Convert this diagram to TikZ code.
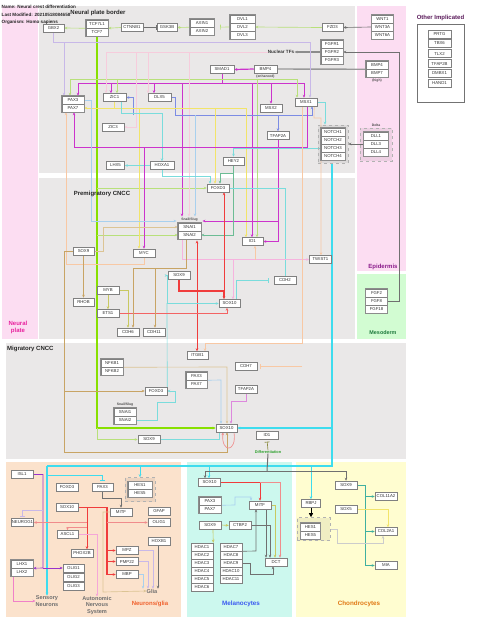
\documentclass[tikz,border=0pt]{standalone}
\usepackage{fontspec}
\setmainfont{Liberation Sans}
\usetikzlibrary{arrows.meta,fit}
\pgfdeclarelayer{bgl}
\pgfdeclarelayer{lnl}
\pgfsetlayers{bgl,lnl,main}
\definecolor{npink}{HTML}{FCDDF2}
\definecolor{rgray}{HTML}{EAE8E8}
\definecolor{mesog}{HTML}{D2FCD2}
\definecolor{peachbg}{HTML}{FBE2CC}
\definecolor{mintbg}{HTML}{CCF8EE}
\definecolor{yelbg}{HTML}{FFFDD0}
\definecolor{clime}{HTML}{88E000}
\definecolor{clgr}{HTML}{B8E07A}
\definecolor{cmag}{HTML}{CC33CC}
\definecolor{cpmag}{HTML}{DD88DD}
\definecolor{clav}{HTML}{C8B8E8}
\definecolor{cppink}{HTML}{F6CCDC}
\definecolor{cblu}{HTML}{7C8CE4}
\definecolor{clbl}{HTML}{A8D0EE}
\definecolor{cyel}{HTML}{F2E46A}
\definecolor{ccyb}{HTML}{3EDCEE}
\definecolor{clcy}{HTML}{7ADCDC}
\definecolor{cteal}{HTML}{6CBC94}
\definecolor{cpch}{HTML}{F8C8A4}
\definecolor{ctan}{HTML}{C8A464}
\definecolor{ctanl}{HTML}{DCC494}
\definecolor{cred}{HTML}{F03C3C}
\definecolor{csal}{HTML}{F08C8C}
\definecolor{cdg}{HTML}{707070}
\definecolor{colv}{HTML}{C8C860}
\definecolor{cpur}{HTML}{9933CC}
\definecolor{cpk}{HTML}{F080C8}
\definecolor{cteal2}{HTML}{40B0A0}
\definecolor{textgray}{HTML}{333333}
\definecolor{labpur}{HTML}{8B1C8B}
\definecolor{labmag}{HTML}{E8229E}
\definecolor{labgrn}{HTML}{1E7A3C}
\definecolor{labora}{HTML}{F0602C}
\definecolor{labblu}{HTML}{3A5AF0}
\definecolor{labchd}{HTML}{E07814}
\definecolor{labdif}{HTML}{2CA02C}
\definecolor{labgry}{HTML}{707070}
\definecolor{othpur}{HTML}{5A1A5A}
\newcommand{\genefnt}{\fontsize{4.3}{5}\selectfont}
\newcommand{\hdrfnt}{\bfseries\fontsize{4.6}{5.4}\selectfont}
\newcommand{\tinyfnt}{\bfseries\fontsize{3.4}{4}\selectfont}
\tikzset{
  gene/.style={draw=black!50, fill=white, line width=0.5pt, minimum width=22pt, minimum height=8pt, inner sep=0pt, text=textgray, font=\genefnt},
  stackbox/.style={draw=black!45, line width=0.6pt, inner sep=0pt},
  ghost/.style={inner sep=1pt},
  dgroup/.style={draw=black!30, dashed, fill=black, fill opacity=0.06, line width=0.6pt, inner sep=0pt},
  ln/.style={line width=0.65pt},
  ar/.style={-{Stealth[length=3pt,width=2.6pt]}},
  ib/.style={-{Bar[width=5pt]}},
  rtitle/.style={font=\bfseries\fontsize{6}{7}\selectfont, text=black!85, inner sep=0pt},
  clabel/.style={font=\bfseries\fontsize{6}{6.6}\selectfont, inner sep=0pt, align=center},
  hdr/.style={font=\hdrfnt, inner sep=0pt, text=black!85},
}
\begin{document}
\begin{tikzpicture}[x=1pt,y=-1pt]
\useasboundingbox (0,0) rectangle (480,630);
\begin{pgfonlayer}{bgl}
\fill[npink] (2,6) rectangle (38,339);
\fill[rgray] (39,6) rectangle (355,173);
\fill[rgray] (39,178) rectangle (355,339);
\fill[npink] (357,6) rectangle (406,271);
\fill[mesog] (357,274) rectangle (406,339);
\fill[rgray] (6,343) rectangle (406,459);
\fill[peachbg] (6,462) rectangle (181,617);
\fill[mintbg] (187,462) rectangle (292,617);
\fill[yelbg] (296,462) rectangle (406,617);
\end{pgfonlayer}

% header and titles
\node[hdr,anchor=west] (hname) at (1.5,6.7) {Name: Neural crest differentiation};
\node[hdr,anchor=west] (hmod) at (1.5,14.7) {Last Modified: 20210518084658};
\node[hdr,anchor=west] (horg) at (1.5,22.3) {Organism: Homo sapiens};
\node[rtitle] (tnpb) at (98,12.7) {Neural plate border};
\node[rtitle] (tpre) at (102,194) {Premigratory CNCC};
\node[rtitle,anchor=west] (tmig) at (7,349) {Migratory CNCC};
\node[rtitle,text=othpur] (toth) at (440.5,18) {Other Implicated};
\node[clabel,text=labmag] (tnp) at (18,327.5) {Neural\\plate};
\node[clabel,text=labpur] (tepi) at (383,267) {Epidermis};
\node[clabel,text=labgrn,font=\bfseries\fontsize{5.4}{6}\selectfont] (tmes) at (383,333) {Mesoderm};
\node[font=\bfseries\fontsize{4.6}{5}\selectfont,inner sep=0pt,text=black!80] (ntf) at (281,52) {Nuclear TFs};
\node[font=\bfseries\fontsize{3.9}{4.5}\selectfont,inner sep=0pt,text=labdif] (diff) at (268,452) {Differentiation};
\node[clabel,text=labgry,font=\bfseries\fontsize{5.6}{6.2}\selectfont] (sens) at (47,601) {Sensory\\Neurons};
\node[clabel,text=labgry,font=\bfseries\fontsize{5.6}{6.2}\selectfont] (ans) at (97,605.5) {Autonomic\\Nervous\\System};
\node[clabel,text=labgry,font=\bfseries\fontsize{5.6}{6.2}\selectfont] (glia) at (152,591) {Glia};
\node[clabel,text=labora] (ng) at (150,604) {Neurons/glia};
\node[clabel,text=labblu,font=\bfseries\fontsize{6.3}{7}\selectfont] (mel) at (241,604) {Melanocytes};
\node[clabel,text=labchd,font=\bfseries\fontsize{6.3}{7}\selectfont] (chd) at (359,604) {Chondrocytes};

% dashed groups
\node[dgroup,minimum width=30pt,minimum height=38pt] (notchg) at (333,144) {};
\node[dgroup,minimum width=32pt,minimum height=33pt] (deltag) at (376,144.5) {};
\node[dgroup,minimum width=30pt,minimum height=24pt] (hescg) at (140,489.5) {};
\node[dgroup,minimum width=33pt,minimum height=23pt] (heseg) at (313.5,529) {};
\node[font=\tinyfnt,inner sep=0pt,text=black!70] (deltal) at (376,125.5) {Delta};

% Other implicated
\node[draw=black!55,line width=0.6pt,minimum width=47pt,minimum height=78pt,inner sep=0pt] (othbox) at (440.5,63) {};
\node[gene,minimum width=23pt] (prtg) at (439.5,34.5) {PRTG};
\node[gene,minimum width=23pt] (tbx6) at (439.5,43.5) {TBX6};
\node[gene,minimum width=23pt] (tlx2) at (439.5,53.5) {TLX2};
\node[gene,minimum width=23pt] (tfap2b) at (439.5,63.5) {TFAP2B};
\node[gene,minimum width=23pt] (dmbx1) at (439.5,73.5) {DMBX1};
\node[gene,minimum width=23pt] (hand1) at (439.5,83) {HAND1};

% neural plate border genes
\node[gene,minimum width=21pt] (gbx2) at (53.5,28) {GBX2};
\node[gene] (tcf7l1) at (97,24) {TCF7L1};
\node[gene] (tcf7) at (97,32) {TCF7};
\node[gene] (ctnnb1) at (132,27.5) {CTNNB1};
\node[gene,minimum width=20pt] (gsk3b) at (167,27.5) {GSK3B};
\node[gene,minimum width=24pt] (axin1) at (202,23) {AXIN1};
\node[gene,minimum width=24pt] (axin2) at (202,31) {AXIN2};
\node[gene,minimum width=25pt] (dvl1) at (242.5,19) {DVL1};
\node[gene,minimum width=25pt] (dvl2) at (242.5,27) {DVL2};
\node[gene,minimum width=25pt] (dvl3) at (242.5,35) {DVL3};
\node[gene,minimum width=21pt] (fzd3) at (332.5,27.5) {FZD3};
\node[gene] (wnt1) at (382.5,19) {WNT1};
\node[gene] (wnt3a) at (382.5,27) {WNT3A};
\node[gene] (wnt6a) at (382.5,35) {WNT6A};
\node[gene] (fgfr1) at (332,44) {FGFR1};
\node[gene] (fgfr2) at (332,52) {FGFR2};
\node[gene] (fgfr3) at (332,60) {FGFR3};
\node[gene] (bmp4h) at (377,65) {BMP4};
\node[gene] (bmp7h) at (377,73) {BMP7};
\node[font=\tinyfnt,inner sep=0pt,text=black!70] (highl) at (377,80.5) {(high)};
\node[gene,minimum width=24pt] (smad1) at (222,69.5) {SMAD1};
\node[gene,minimum width=23pt] (bmp4e) at (265.5,69) {BMP4};
\node[font=\tinyfnt,inner sep=0pt,text=black!70] (enhl) at (265.5,76.7) {(enhanced)};
\node[gene] (pax3a) at (73,100) {PAX3};
\node[gene] (pax7a) at (73,108) {PAX7};
\node[gene,minimum width=23pt] (zic1) at (114.5,97.5) {ZIC1};
\node[gene,minimum width=23pt] (dlx5) at (159.5,97.5) {DLX5};
\node[gene] (zic3) at (113,127) {ZIC3};
\node[gene] (msx2) at (271,108) {MSX2};
\node[gene] (msx1) at (306,102) {MSX1};
\node[gene] (tfap2a) at (278,135.5) {TFAP2A};
\node[gene,minimum width=24pt] (notch1) at (333,132) {NOTCH1};
\node[gene,minimum width=24pt] (notch2) at (333,140) {NOTCH2};
\node[gene,minimum width=24pt] (notch3) at (333,148) {NOTCH3};
\node[gene,minimum width=24pt] (notch4) at (333,156) {NOTCH4};
\node[gene,minimum width=25pt] (dll1) at (376,136) {DLL1};
\node[gene,minimum width=25pt] (dll3) at (376,144) {DLL3};
\node[gene,minimum width=25pt] (dll4) at (376,152) {DLL4};
\node[gene,minimum width=18pt] (lhx5) at (115.5,165.5) {LHX5};
\node[gene,minimum width=24pt] (hoxa1) at (162,165.5) {HOXA1};
\node[gene,minimum width=21pt] (hey2) at (233.5,161) {HEY2};

% premigratory
\node[gene] (foxd3a) at (218,188) {FOXD3};
\node[font=\tinyfnt,inner sep=0pt,text=black!70] (snailA) at (189.5,219.5) {Snail/Slug};
\node[gene,minimum width=23pt] (snai1a) at (189.5,227) {SNAI1};
\node[gene,minimum width=23pt] (snai2a) at (189.5,235) {SNAI2};
\node[gene,minimum width=21pt] (id1a) at (252.5,241.5) {ID1};
\node[gene,minimum width=21pt] (sox9a) at (83.5,251.5) {SOX9};
\node[gene] (myc) at (144,253) {MYC};
\node[gene] (sox9b) at (179,275.5) {SOX9};
\node[gene] (cdh2) at (285,280.5) {CDH2};
\node[gene] (twist1) at (320.5,259.5) {TWIST1};
\node[gene] (myb) at (108,290.5) {MYB};
\node[gene,minimum width=21pt] (rhob) at (83.5,302) {RHOB};
\node[gene] (ets1) at (108,313.5) {ETS1};
\node[gene,minimum width=21pt] (sox10a) at (229.5,303.5) {SOX10};
\node[gene] (cdh6) at (128,332) {CDH6};
\node[gene] (cdh11) at (154,332) {CDH11};
\node[gene] (fgf2) at (376.5,293) {FGF2};
\node[gene] (fgf8) at (376.5,301) {FGF8};
\node[gene] (fgf18) at (376.5,309) {FGF18};

% migratory
\node[gene,minimum width=21pt] (itgb1) at (197.5,355.5) {ITGB1};
\node[gene] (cdh7) at (246,366.5) {CDH7};
\node[gene] (nfkb1) at (112,363) {NFKB1};
\node[gene] (nfkb2) at (112,371) {NFKB2};
\node[gene,minimum width=21pt] (pax3b) at (196.5,376) {PAX3};
\node[gene,minimum width=21pt] (pax7b) at (196.5,384) {PAX7};
\node[gene] (foxd3b) at (156,391) {FOXD3};
\node[gene] (tfap2ab) at (246,389) {TFAP2A};
\node[font=\tinyfnt,inner sep=0pt,text=black!70] (snailB) at (125,404.5) {Snail/Slug};
\node[gene] (snai1b) at (125,412) {SNAI1};
\node[gene] (snai2b) at (125,420) {SNAI2};
\node[gene] (sox9c) at (149,439.5) {SOX9};
\node[gene,minimum width=21pt] (sox10b) at (226.5,428) {SOX10};
\node[gene] (id1b) at (267,435.5) {ID1};

% neurons / glia
\node[gene] (isl1) at (22,474.5) {ISL1};
\node[gene] (neurod) at (22.5,522.5) {NEUROG1};
\node[gene] (foxd3c) at (67,487) {FOXD3};
\node[gene,minimum width=21pt] (pax3c) at (102.5,487) {PAX3};
\node[gene,minimum width=24pt] (hes1c) at (140,485.5) {HES1};
\node[gene,minimum width=24pt] (hes5c) at (140,493.5) {HES5};
\node[gene] (sox10c) at (67,507.5) {SOX10};
\node[gene] (mitfc) at (121,512) {MITF};
\node[gene] (gfap) at (159,511) {GFAP};
\node[gene] (olig1r) at (159,522.5) {OLIG1};
\node[gene,minimum width=21pt] (ascl1) at (67.5,534.5) {ASCL1};
\node[gene] (hoxb) at (159,541.5) {HOXB1};
\node[gene] (phox2b) at (82,553.5) {PHOX2B};
\node[gene] (mpz) at (127,550.5) {MPZ};
\node[gene] (pmp22) at (127,561.5) {PMP22};
\node[gene] (mbp) at (127,574.5) {MBP};
\node[gene] (lhx1) at (22,564) {LHX1};
\node[gene] (lhx2) at (22,572) {LHX2};
\node[gene,minimum width=21pt] (olig1) at (73.5,568) {OLIG1};
\node[gene,minimum width=21pt] (olig2) at (73.5,577) {OLIG2};
\node[gene,minimum width=21pt] (olig3) at (73.5,586) {OLIG3};

% melanocytes
\node[gene] (sox10d) at (209.5,482.5) {SOX10};
\node[gene] (pax3d) at (210,501) {PAX3};
\node[gene] (pax7d) at (210,509) {PAX7};
\node[gene] (mitfd) at (260,505) {MITF};
\node[gene] (sox9d) at (210,525) {SOX9};
\node[gene] (ctbp2) at (240,525.5) {CTBP2};
\node[gene] (hdac1) at (202,547) {HDAC1};
\node[gene] (hdac2) at (202,555) {HDAC2};
\node[gene] (hdac3) at (202,563) {HDAC3};
\node[gene] (hdac4) at (202,571) {HDAC4};
\node[gene] (hdac5) at (202,579) {HDAC5};
\node[gene] (hdac6) at (202,587) {HDAC6};
\node[gene] (hdac7) at (231,547) {HDAC7};
\node[gene] (hdac8) at (231,555) {HDAC8};
\node[gene] (hdac9) at (231,563) {HDAC9};
\node[gene] (hdac10) at (231,571) {HDAC10};
\node[gene] (hdac11) at (231,579) {HDAC11};
\node[gene] (dct) at (276,562) {DCT};

% chondrocytes
\node[gene,minimum width=19pt] (rbpj) at (311,503.5) {RBPJ};
\node[gene,minimum width=20pt] (hes1e) at (310.5,527) {HES1};
\node[gene,minimum width=20pt] (hes5e) at (310.5,535) {HES5};
\node[gene] (sox9e) at (346,485) {SOX9};
\node[gene] (sox5) at (346,509.5) {SOX5};
\node[gene] (col11a2) at (386,496.5) {COL11A2};
\node[gene] (col2a1) at (386,531.5) {COL2A1};
\node[gene] (mia) at (386,565.5) {MIA};

% stack outlines and ghost groups
\node[stackbox,fit=(tcf7l1)(tcf7)] (tcfg) {};
\node[stackbox,fit=(axin1)(axin2)] (axing) {};
\node[stackbox,fit=(dvl1)(dvl3)] (dvlg) {};
\node[stackbox,fit=(wnt1)(wnt6a)] (wntg) {};
\node[stackbox,fit=(fgfr1)(fgfr3)] (fgfrg) {};
\node[stackbox,fit=(bmp4h)(bmp7h)] (bmphg) {};
\node[stackbox,fit=(pax3a)(pax7a)] (paxag) {};
\node[stackbox,fit=(notch1)(notch4)] (notchs) {};
\node[stackbox,fit=(dll1)(dll4)] (dlls) {};
\node[stackbox,fit=(snai1a)(snai2a)] (snaias) {};
\node[ghost,fit=(snailA)(snai1a)(snai2a)] (snaiA) {};
\node[stackbox,fit=(fgf2)(fgf18)] (fgfg) {};
\node[stackbox,fit=(nfkb1)(nfkb2)] (nfkbg) {};
\node[stackbox,fit=(pax3b)(pax7b)] (paxbg) {};
\node[stackbox,fit=(snai1b)(snai2b)] (snaibs) {};
\node[stackbox,fit=(hes1c)(hes5c)] (hescs) {};
\node[stackbox,fit=(lhx1)(lhx2)] (lhxg) {};
\node[stackbox,fit=(pax3d)(pax7d)] (paxdg) {};
\node[stackbox,fit=(hes1e)(hes5e)] (heses) {};

\begin{pgfonlayer}{lnl}
% Wnt pathway
\draw[ln,clgr,ar] (ctnnb1.west) -- (tcf7l1.south east);
\draw[ln,clgr,ar] (tcf7l1.south west) -- (gbx2.east);
\draw[ln,cdg,ib] (ctnnb1.east) -- (gsk3b.west);
\draw[ln,clgr,ar] (axin1.south west) -- (gsk3b.east);
\draw[ln,clgr,ib,shorten >=6pt] (dvl2.west) -- (axin1.south east);
\draw[ln,clgr,ar] (fzd3.west) -- (dvl2.east);
\draw[ln,cdg,ar] (wnt3a.west) -- (fzd3.east);
% FGF
\draw[line width=1.4pt,black!45,ar] (fgfr2.west) -- (ntf.east);
\draw[ln,cdg,ar] (fgf8.east) -- (399,301) -- (399,52) -- (fgfr2.east);
% BMP / SMAD1
\draw[line width=1.4pt,black!40] (bmp4h.south west) -- (bmp4e.east);
\draw[line width=1.2pt,cmag,ar] (bmp4e.west) -- (smad1.east);
\draw[line width=1pt,cmag] (smad1.south) -- (222,83);
\draw[ln,cmag] (78,83) -- (305,83);
\draw[ln,cmag,ar] (78,83) -- (pax3a.north -| 78,0);
\draw[ln,cmag,ar] (111,83) -- (zic1.north -| 111,0);
\draw[ln,cmag,ar] (154,83) -- (dlx5.north -| 154,0);
\draw[ln,cmag,ar] (271,83) -- (msx2.north);
\draw[ln,cmag,ar] (304,83) -- (msx1.north -| 304,0);
\draw[ln,cmag,ar] (182,83) -- (snaiA.north -| 182,0);
\draw[ln,cmag,ar] (252,83) -- (id1a.north -| 252,0);
% TCF green
\draw[line width=1.1pt,clime,ar] (tcf7.south) -- (tcf7.south |- sox10b.west) -- (sox10b.west);
\draw[ln,clgr,ar] (97,428) |- (sox9c.west);
\draw[ln,clgr] (70,79) -- (297,79);
\draw[ln,clgr,ar] (70,79) -- (pax3a.north -| 70,0);
\draw[ln,clgr,ar] (117,79) -- (zic1.north -| 117,0);
\draw[ln,clgr,ar] (297,79) -- (msx1.north -| 297,0);
\draw[ln,clgr,ar] (257,79) -- (id1a.north -| 257,0);
\draw[ln,clgr,ar] (97,188) -- (foxd3a.west);
\draw[ln,clgr,ar] (97,235) -- (snai2a.west);
% GBX2
\draw[ln,clav,ar] (gbx2.south) |- (64,42) -- (pax3a.north -| 64,0);
\draw[ln,clav,ar] (64,42) -- (310,42) -- (msx1.north -| 310,0);
% nuclear TFs
\draw[ln,cppink] (ntf.west) -- (106,52);
\draw[ln,cppink,ar] (106,52) -- (zic1.north -| 106,0);
\draw[ln,cppink,ar] (136,52) |- (zic3.east);
\draw[ln,cppink,ar] (148,52) -- (dlx5.north -| 148,0);
\draw[ln,cppink,ar] (189,52) -- (snaiA.north -| 189,0);
% DLX5
\draw[ln,cblu,ar] (dlx5.east) -| (175,115) -- (312,115) -- (msx1.south -| 312,0);
\draw[ln,cblu,ar] (133,115) |- (zic1.east);
\draw[ln,cblu,ar] (278,115) -- (tfap2a.north);
\draw[ln,clbl,ar] (195,115) -- (snaiA.north -| 195,0);
% ZIC1
\draw[ln,cyel,ar] (zic1.south) |- (pax7a.east);
\draw[ln,cyel] (114.5,108) -- (246,108);
\draw[ln,cyel,ar] (215,108) -- (foxd3a.north -| 215,0);
\draw[ln,cyel,ar] (246,108) -- (id1a.north -| 246,0);
\draw[ln,cyel,ar] (139,108) -- (myc.north -| 139,0);
\draw[ln,clcy,ar] (zic1.south -| 121,0) -- (121,113) -- (162,113) -- (hoxa1.north);
\draw[ln,clcy,ar] (hoxa1.west) -- (lhx5.east);
\draw[ln,clcy,ar] (hoxa1.south) |- (210,176) -- (foxd3a.north -| 210,0);
% MSX1 bus
\draw[ln,cmag] (msx1.south -| 307,0) -- (307,147) -- (74,147);
\draw[ln,cmag,ar] (74,147) -- (pax7a.south -| 74,0);
\draw[ln,cmag,ar] (144,147) -- (myc.north -| 144,0);
\draw[ln,cpch,ar] (myc.south) |- (66,264) -- (pax7a.south -| 66,0);
\draw[ln,clbl,ar] (pax3a.east) -- (91,100) -- (91,221) -- (snaiA.west |- 91,221);
% TFAP2A
\draw[ln,cmag,ar] (tfap2a.south) -- (278,221) -- (snaiA.east |- 278,221);
\draw[ln,cmag,ar] (278,221) |- (id1a.east);
% HEY2
\draw[ln,cteal,ar] (hey2.south) -- (233.5,173) -- (220,173) -- (foxd3a.north -| 220,0);
\draw[ln,cteal,ar] (233.5,173) |- (snai2a.east);
% NOTCH
\draw[ln,clcy,ar] (notch3.west) -| (hey2.north);
\draw[ln,clcy,ar] (msx1.east) -- (325,102) -- (notchg.north -| 325,0);
\draw[ln,cdg,ar] (dll3.west) -- (notchg.east |- dll3.west);
\draw[line width=1.1pt,ccyb] (notchg.south -| 332,0) -- (332,466) -- (47,466);
\draw[line width=1.1pt,ccyb,ar] (332,428) -- (sox10b.east);
\draw[line width=1.1pt,ccyb,ar] (47,466) -- (sens.north -| 47,0);
\draw[ln,ccyb,ib,shorten >=2pt] (47,475) -| (pax3c.north);
\draw[ln,ccyb,ar] (140,466) -- (hescg.north -| 140,0);
\draw[ln,ccyb,ar] (209,466) -- (sox10d.north -| 209,0);
\draw[ln,ccyb,ar] (311,466) -- (rbpj.north);
% premigratory
\draw[ln,clcy,ib] (foxd3a.east) -| (cdh2.north);
\draw[ln,clcy,ib,shorten >=5pt] (sox10a.north -| 236,0) |- (cdh2.west);
\draw[ln,cpk!60,ar] (snai2a.south -| 182,0) -- (182,259.5) -- (twist1.west);
\draw[ln,cpch,ar] (255,259.5) -- (id1a.south -| 255,0);
\draw[ln,cpk!60,ar] (233,259.5) -- (sox10a.north -| 233,0);
\draw[line width=1.2pt,cred,ar] (sox9b.south) |- (224,291) -- (sox10a.north -| 224,0);
\draw[ln,cred,ar] (224,291) -- (foxd3a.south -| 224,0);
\draw[ln,cred,ar] (197,291) -- (snaiA.south -| 197,0);
\draw[ln,cred,ar] (197,291) -- (itgb1.north -| 197,0);
\draw[ln,clcy,ar] (foxd3b.north east) -- (167,303.5) -- (sox10a.west);
\draw[ln,clcy,ar] (167,303.5) |- (sox9b.west);
\draw[ln,cpch,ar] (msx1.south east) ++(-3,0) -- (314,118) -- (321,118) -- (twist1.north -| 321,0);
% SOX9 (tan)
\draw[ln,ctan,ar] (sox9a.west) -| (64,452) -- (227,452) -- (sox10b.south -| 227,0);
\draw[ln,ctan,ar] (64,391) -- (foxd3b.west);
\draw[ln,ctan,ar] (sox9a.south) -- (rhob.north);
\draw[ln,ctanl,ar] (sox9a.east) -- (103,251.5) -- (103,227) -- (snai1a.west);
\draw[ln,colv,ar] (myb.south) -- (ets1.north);
\draw[ln,colv,ar] (myb.east) -| (cdh6.north);
\draw[ln,cred!80,ar] (ets1.east) -- (227,313.5) -- (sox10a.south -| 227,0);
\draw[ln,ctan] (snaiA.south -| 186,0) -- (186,268) -- (133,268);
\draw[ln,ctan,ar] (133,268) -- (cdh6.north -| 133,0);
\draw[ln,ctan,ar] (155,268) -- (cdh11.north -| 155,0);
% migratory
\draw[ln,cpch] (msx1.south -| 302,0) -- (302,343) -- (205,343);
\draw[ln,cpch,ar] (205,343) -- (itgb1.north -| 205,0);
\draw[ln,cpch,ib,shorten >=3pt] (302,366.5) -- (cdh7.east);
\draw[ln,ctanl,ar] (nfkb1.south east) -- (227,367) -- (sox10b.north -| 227,0);
\draw[ln,clbl,ar] (pax3b.south east) -- (221,380) -- (sox10b.north -| 221,0);
\draw[ln,cpmag,ar] (tfap2ab.south) |- (231,401) -- (sox10b.north -| 231,0);
\draw[ln,clcy,ar] (snai2b.east) -- (157,420) -- (157,402) -- (175,402) |- (foxd3b.east);
\draw[ln,clcy,ib] (sox10b.south -| 219,0) |- (sox9c.east);
\draw[ln,csal,ar] (sox10b.south -| 234,0) .. controls (237,453) and (221,453) .. (sox10b.south -| 223,0);
\draw[ln,colv!70!black,ib,shorten >=2pt] (diff.north) -- (id1b.south);
\draw[line width=1pt,cdg] (diff.south) -- (267,471);
\draw[ln,cdg] (205,471) -- (346,471);
\draw[ln,cdg,ar] (205,471) -- (sox10d.north -| 205,0);
\draw[ln,cdg,ar] (346,471) -- (sox9e.north);
% neurons / glia
\draw[ln,cpur,ar] (isl1.east) -| (43,568) -- (lhx1.south east);
\draw[ln,cpur,ar] (43,568) -- (olig1.west);
\draw[ln,clav,ib,shorten >=2pt] (43,510) -| (neurod.north);
\draw[line width=1.1pt,cred] (sox10c.east) -- (107,507.5) -- (107,574.5);
\draw[ln,cred,ar] (107,550.5) -- (mpz.west);
\draw[ln,cred,ar] (107,561.5) -- (pmp22.west);
\draw[line width=1.1pt,cred,ar] (107,574.5) -- (mbp.west);
\draw[ln,cred,ar] (87,507.5) -- (phox2b.north -| 87,0);
\draw[ln,csal,ar] (87,522.5) -- (neurod.east);
\draw[ln,csal,ar] (87,527) -| (ascl1.north);
\draw[ln,csal,ar] (107,522.5) -- (olig1r.west);
\draw[ln,cpk!70,ar] (ascl1.east) -- (97,534.5) -- (ans.north -| 97,0);
\draw[ln,cdg,ar] (pax3c.south) |- (121,498) -- (mitfc.north);
\draw[ln,ctanl,ar] (mitfc.west) -- (103,512) -- (103,592) -- (glia.west);
\draw[ln,clav,ar] (mpz.east) -- (153,550.5) -- (glia.north -| 153,0);
\draw[ln,clav,ar] (pmp22.east) -- (148,561.5) -- (glia.north -| 148,0);
\draw[ln,clbl,ar] (mbp.east) -- (143,574.5) -- (glia.north -| 143,0);
\draw[ln,cdg,ar] (hoxb.south -| 158,0) -- (glia.north -| 158,0);
\draw[ln,cpk,ar] (lhx2.south -| 13,0) |- (sens.west);
% melanocytes
\draw[ln,cred,ar] (sox10d.east) -| (mitfd.north);
\draw[ln,csal,ar] (260,482.5) -- (280,482.5) -- (dct.north -| 280,0);
\draw[ln,clbl,ar] (pax3d.south east) -- (235,505) -- (235,497) -- (251,497) -- (mitfd.north -| 251,0);
\draw[ln,colv,ar] (sox9d.east) -- (ctbp2.west);
\draw[ln,colv,ar] (sox9d.south -| 213,0) -- (hdac1.north east);
\draw[ln,cdg,ar] (ctbp2.east) -| (dct.north -| 270,0);
\draw[ln,cdg,ar] (mitfd.south -| 266,0) -- (dct.north -| 266,0);
\draw[ln,colv,ar] (mitfd.east) -| (dct.north -| 275,0);
\draw[ln,cdg,ar] (hdac7.south east) -- (256,551) -- (mitfd.south -| 256,0);
\draw[ln,cdg,ar] (hdac9.east) -- (250,563) -- (250,574) -- (273,574) -- (dct.south -| 273,0);
% chondrocytes
\draw[ln,black,-{Triangle[length=4pt,width=4pt]}] (rbpj.south) -- (heseg.north -| rbpj.south);
\draw[ln,cteal2] (sox9e.east) -- (365,485) -- (365,565.5);
\draw[ln,cteal2,ar] (365,496.5) -- (col11a2.west);
\draw[ln,cteal2,ar] (365,531.5) -- (col2a1.west);
\draw[ln,cteal2,ar] (365,565.5) -- (mia.west);
\draw[ln,cyel,ar] (sox5.east) -- (388,509.5) -- (col2a1.north -| 388,0);
\draw[ln,black!20,ar] (heseg.east) -- (337,529) -- (337,543) -- (383,543) -- (col2a1.south -| 383,0);
\end{pgfonlayer}
\end{tikzpicture}
\end{document}
